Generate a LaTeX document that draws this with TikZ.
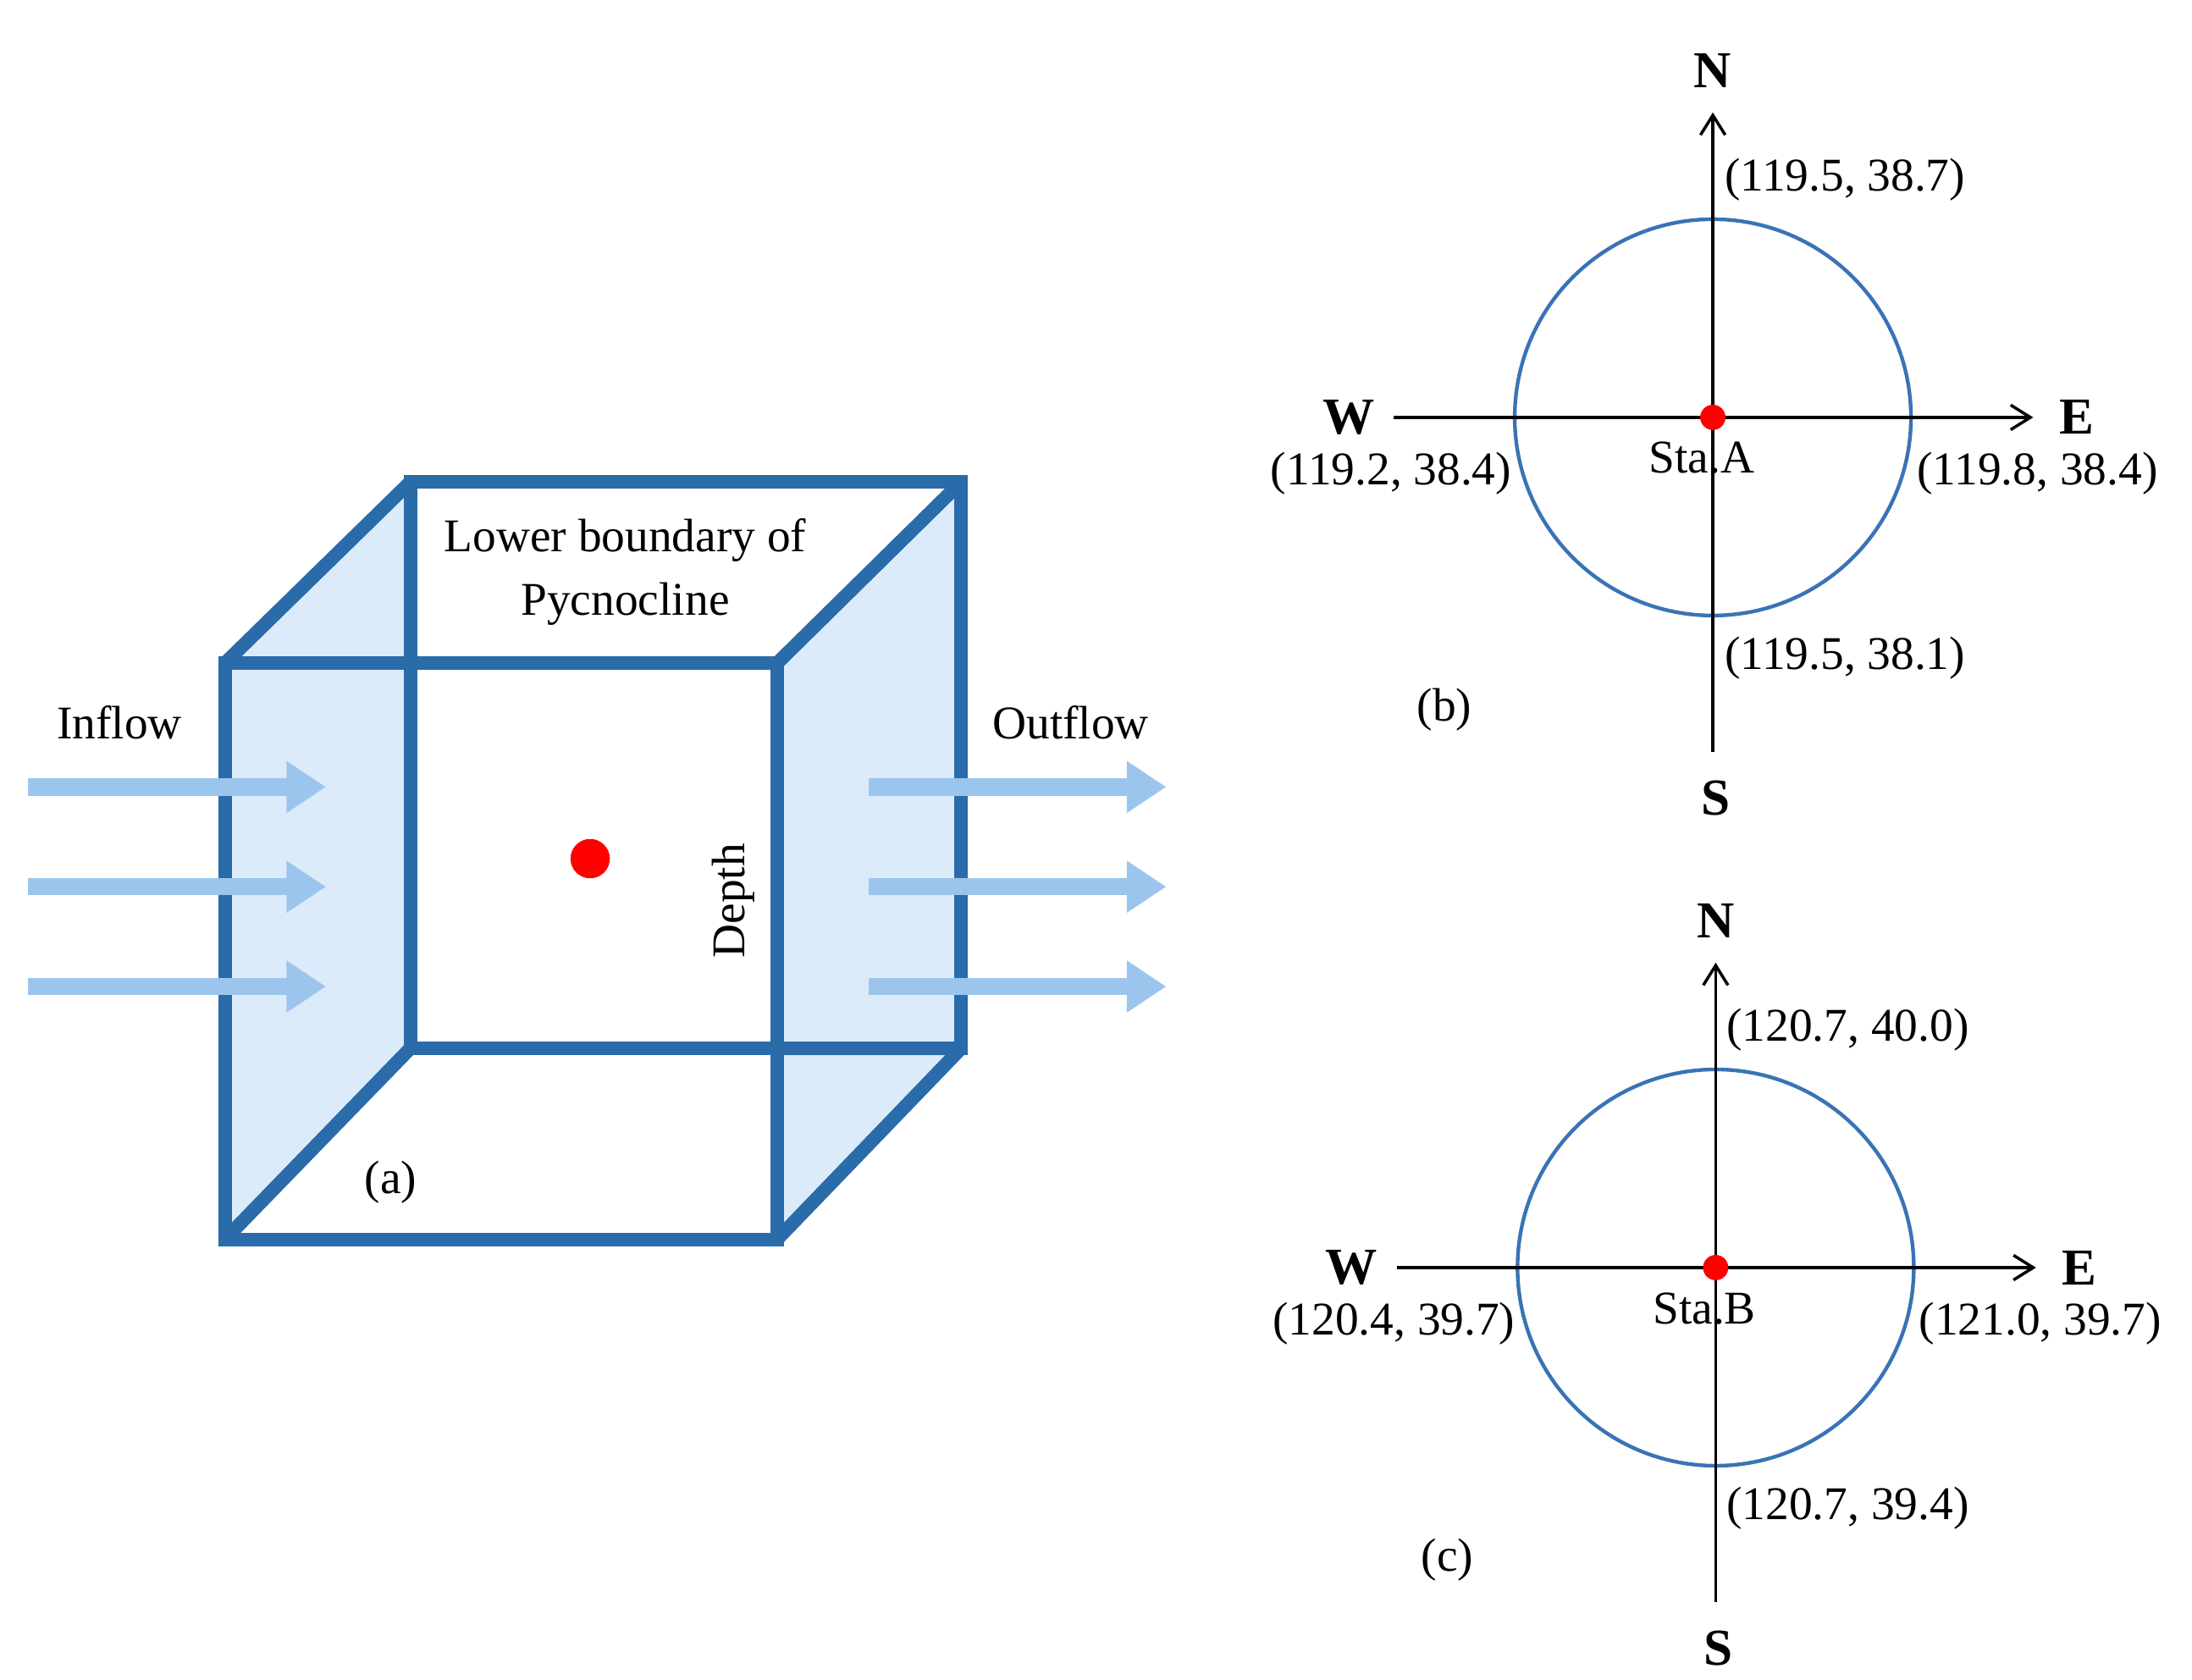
\documentclass[tikz,border=0pt]{standalone}
\usepackage{fontspec}
\setmainfont{Liberation Serif}
\usetikzlibrary{arrows.meta}
\definecolor{cube}{HTML}{2A6BAA}
\definecolor{face}{HTML}{DCEBFA}
\definecolor{flow}{HTML}{9CC5EE}
\definecolor{circ}{HTML}{3A73B5}
\begin{document}
\begin{tikzpicture}[x=0.02cm,y=-0.02cm,
  txt/.style={font=\fontsize{19}{22}\selectfont, inner sep=0pt},
  dir/.style={font=\bfseries\fontsize{21}{24}\selectfont, inner sep=0pt},
  flowarr/.style={draw=flow, line width=7pt, -{Triangle[length=16pt,width=20pt]}},
  axis/.style={line width=1.2pt, -{Straight Barb[length=8pt,width=10pt]}},
  edge/.style={draw=cube, line width=5.5pt, line join=miter}]
\useasboundingbox (0,0) rectangle (1560,1195);
% cube faces
\fill[face] (160,472) -- (292,343) -- (292,746) -- (160,882) -- cycle;
\fill[face] (553,472) -- (684,343) -- (684,746) -- (553,882) -- cycle;
\draw[edge] (292,343) rectangle (684,746);
\draw[edge] (160,472) rectangle (553,882);
\draw[edge] (160,472) -- (292,343) (553,472) -- (684,343) (553,882) -- (684,746) (160,882) -- (292,746);
\fill[red] (420,611) circle (14);
% flows
\foreach \y/\n in {560/1,631/2,702/3}{
  \coordinate (i\n) at (20,\y); \coordinate (ie\n) at (232,\y);
  \coordinate (o\n) at (618,\y); \coordinate (oe\n) at (830,\y);
  \draw[flowarr] (i\n) -- (ie\n);
  \draw[flowarr] (o\n) -- (oe\n);
}
\node[txt] (inflow) at (85,514) {Inflow};
\node[txt] (outflow) at (762,514) {Outflow};
\node[txt, align=center] (lb) at (445,407) {Lower boundary of\\[4pt]Pycnocline};
\node[txt, rotate=90] (depth) at (522,641) {Depth};
\node[txt] (a) at (278,841) {(a)};
% compasses
\foreach \cx/\cy/\st/\lab/\nn/\ww/\ee/\ss/\pl in {1219/297/A/b/{(119.5, 38.7)}/{(119.2, 38.4)}/{(119.8, 38.4)}/{(119.5, 38.1)}/p, 1221/902/B/c/{(120.7, 40.0)}/{(120.4, 39.7)}/{(121.0, 39.7)}/{(120.7, 39.4)}/q}{
  \coordinate (\pl c) at (\cx,\cy);
  \coordinate (\pl s) at (\cx,\cy+238); \coordinate (\pl n) at (\cx,\cy-217);
  \coordinate (\pl w) at (\cx-227,\cy); \coordinate (\pl e) at (\cx+228,\cy);
  \draw[circ, line width=1.5pt] (\pl c) circle (141);
  \draw[axis] (\pl s) -- (\pl n);
  \draw[axis] (\pl w) -- (\pl e);
  \fill[red] (\pl c) circle (9);
  \node[dir] (\pl N) at (\cx,\cy-247) {N};
  \node[dir] (\pl S) at (\cx+2,\cy+271) {S};
  \node[dir] (\pl W) at (\cx-259,\cy) {W};
  \node[dir] (\pl E) at (\cx+259,\cy) {E};
  \node[txt] (\pl cn) at (\cx+94,\cy-169) {\nn};
  \node[txt] (\pl cw) at (\cx-229,\cy+40) {\ww};
  \node[txt] (\pl ce) at (\cx+231,\cy+40) {\ee};
  \node[txt] (\pl cs) at (\cx+94,\cy+171) {\ss};
  \node[txt] (\pl st) at (\cx-8,\cy+29) {Sta.\st};
  \node[txt] (\pl lab) at (\cx-191,\cy+208) {(\lab)};
}
\end{tikzpicture}
\end{document}
